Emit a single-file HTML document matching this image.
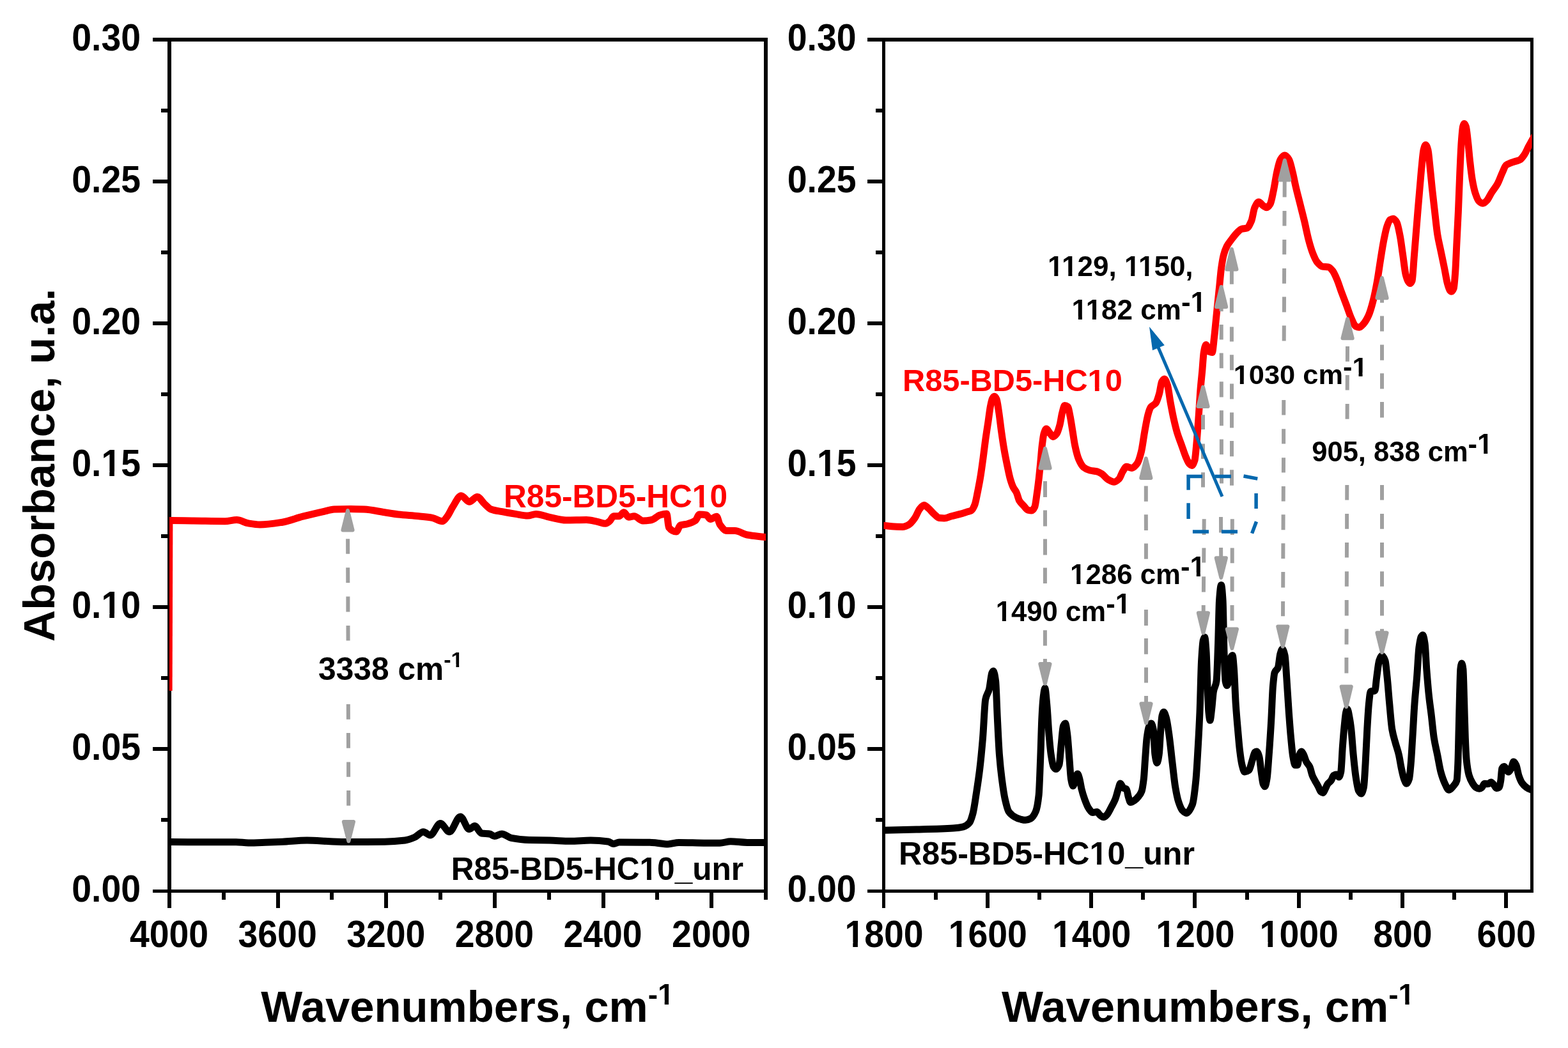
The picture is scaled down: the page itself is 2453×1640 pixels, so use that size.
<!DOCTYPE html>
<html lang="en"><head><meta charset="utf-8"><title>FTIR absorbance spectra: R85-BD5-HC10</title>
<style>html,body{margin:0;padding:0;background:#fff}body{width:2453px;height:1640px}svg{display:block}text{font-family:'Liberation Sans', Arial, sans-serif;font-weight:700}</style>
</head><body>
<svg width="2453" height="1640" viewBox="0 0 2453 1640" role="img" aria-label="FTIR absorbance spectra of R85-BD5-HC10 and R85-BD5-HC10_unr">
<rect width="2453" height="1640" fill="#fff"/>
<defs>
<clipPath id="cl"><rect x="265" y="62" width="933.0" height="1332.5"/></clipPath>
<clipPath id="cr"><rect x="1382.5" y="62" width="1014.0" height="1332.5"/></clipPath>
</defs>
<g id="axes-left">
<path d="M262 59H268V1397H262ZM1195 59H1201V1397H1195ZM262 59H1201V65H262ZM262 1392H1201V1397H262ZM239 1392H262V1397H239ZM239 1169H262V1175H239ZM239 947H262V953H239ZM239 725H262V731H239ZM239 503H262V509H239ZM239 281H262V287H239ZM239 59H262V65H239ZM252 1280H262V1286H252ZM252 1058H262V1064H252ZM252 836H262V842H252ZM252 614H262V620H252ZM252 392H262V398H252ZM252 170H262V176H252ZM262 1397H268V1421H262ZM432 1397H438V1421H432ZM601 1397H607V1421H601ZM771 1397H777V1421H771ZM941 1397H947V1421H941ZM1110 1397H1116V1421H1110ZM347 1397H353V1408H347ZM516 1397H522V1408H516ZM686 1397H692V1408H686ZM856 1397H862V1408H856ZM1025 1397H1031V1408H1025ZM1195 1397H1201V1408H1195Z" fill="#000" shape-rendering="crispEdges"/>
</g>
<g id="axes-right">
<path d="M1380 59H1385V1397H1380ZM2394 59H2399V1397H2394ZM1380 59H2399V65H1380ZM1380 1392H2399V1397H1380ZM1357 1392H1380V1397H1357ZM1357 1169H1380V1175H1357ZM1357 947H1380V953H1357ZM1357 725H1380V731H1357ZM1357 503H1380V509H1357ZM1357 281H1380V287H1357ZM1357 59H1380V65H1357ZM1370 1280H1380V1286H1370ZM1370 1058H1380V1064H1370ZM1370 836H1380V842H1370ZM1370 614H1380V620H1370ZM1370 392H1380V398H1370ZM1370 170H1380V176H1370ZM1380 1397H1385V1421H1380ZM1542 1397H1548V1421H1542ZM1704 1397H1710V1421H1704ZM1866 1397H1872V1421H1866ZM2029 1397H2035V1421H2029ZM2191 1397H2197V1421H2191ZM2353 1397H2359V1421H2353ZM1461 1397H1467V1408H1461ZM1623 1397H1629V1408H1623ZM1785 1397H1791V1408H1785ZM1948 1397H1954V1408H1948ZM2110 1397H2116V1408H2110ZM2272 1397H2278V1408H2272Z" fill="#000" shape-rendering="crispEdges"/>
</g>
<g id="ticklabels">
<text transform="translate(220.0 1411.0) scale(1 1.060)" font-size="55.4" fill="#000" text-anchor="end">0.00</text>
<text transform="translate(1339.5 1411.0) scale(1 1.060)" font-size="55.4" fill="#000" text-anchor="end">0.00</text>
<text transform="translate(220.0 1188.9) scale(1 1.060)" font-size="55.4" fill="#000" text-anchor="end">0.05</text>
<text transform="translate(1339.5 1188.9) scale(1 1.060)" font-size="55.4" fill="#000" text-anchor="end">0.05</text>
<text transform="translate(220.0 966.8) scale(1 1.060)" font-size="55.4" fill="#000" text-anchor="end">0.10</text>
<text transform="translate(1339.5 966.8) scale(1 1.060)" font-size="55.4" fill="#000" text-anchor="end">0.10</text>
<text transform="translate(220.0 744.8) scale(1 1.060)" font-size="55.4" fill="#000" text-anchor="end">0.15</text>
<text transform="translate(1339.5 744.8) scale(1 1.060)" font-size="55.4" fill="#000" text-anchor="end">0.15</text>
<text transform="translate(220.0 522.7) scale(1 1.060)" font-size="55.4" fill="#000" text-anchor="end">0.20</text>
<text transform="translate(1339.5 522.7) scale(1 1.060)" font-size="55.4" fill="#000" text-anchor="end">0.20</text>
<text transform="translate(220.0 300.6) scale(1 1.060)" font-size="55.4" fill="#000" text-anchor="end">0.25</text>
<text transform="translate(1339.5 300.6) scale(1 1.060)" font-size="55.4" fill="#000" text-anchor="end">0.25</text>
<text transform="translate(220.0 78.5) scale(1 1.060)" font-size="55.4" fill="#000" text-anchor="end">0.30</text>
<text transform="translate(1339.5 78.5) scale(1 1.060)" font-size="55.4" fill="#000" text-anchor="end">0.30</text>
<text transform="translate(264.5 1481.6) scale(1 1.060)" font-size="55.4" fill="#000" text-anchor="middle">4000</text>
<text transform="translate(434.1 1481.6) scale(1 1.060)" font-size="55.4" fill="#000" text-anchor="middle">3600</text>
<text transform="translate(603.8 1481.6) scale(1 1.060)" font-size="55.4" fill="#000" text-anchor="middle">3200</text>
<text transform="translate(773.4 1481.6) scale(1 1.060)" font-size="55.4" fill="#000" text-anchor="middle">2800</text>
<text transform="translate(943.0 1481.6) scale(1 1.060)" font-size="55.4" fill="#000" text-anchor="middle">2400</text>
<text transform="translate(1112.7 1481.6) scale(1 1.060)" font-size="55.4" fill="#000" text-anchor="middle">2000</text>
<text transform="translate(1383.0 1481.6) scale(1 1.060)" font-size="55.4" fill="#000" text-anchor="middle">1800</text>
<text transform="translate(1545.3 1481.6) scale(1 1.060)" font-size="55.4" fill="#000" text-anchor="middle">1600</text>
<text transform="translate(1707.6 1481.6) scale(1 1.060)" font-size="55.4" fill="#000" text-anchor="middle">1400</text>
<text transform="translate(1869.9 1481.6) scale(1 1.060)" font-size="55.4" fill="#000" text-anchor="middle">1200</text>
<text transform="translate(2032.2 1481.6) scale(1 1.060)" font-size="55.4" fill="#000" text-anchor="middle">1000</text>
<text transform="translate(2194.4 1481.6) scale(1 1.060)" font-size="55.4" fill="#000" text-anchor="middle">800</text>
<text transform="translate(2356.7 1481.6) scale(1 1.060)" font-size="55.4" fill="#000" text-anchor="middle">600</text>
</g>
<text x="408.3" y="1598.5" font-size="68.8" fill="#000" text-anchor="start">Wavenumbers, cm<tspan font-size="46" dy="-27">-1</tspan></text>
<text x="1566.9" y="1598.5" font-size="68.8" fill="#000" text-anchor="start">Wavenumbers, cm<tspan font-size="46" dy="-27">-1</tspan></text>
<text transform="translate(84.8 1004.3) rotate(-90)" font-size="68.6" fill="#000">Absorbance, u.a.</text>
<g id="left-data" clip-path="url(#cl)">
<path d="M262.0 1317.6C264.0 1317.6 266.0 1317.6 268.0 1317.6C285.3 1317.6 302.7 1317.7 320.0 1317.7C336.5 1317.7 352.9 1317.7 369.4 1317.8C375.8 1317.8 382.1 1318.9 388.5 1318.9C397.3 1318.9 406.2 1318.5 415.0 1318.2C423.9 1317.9 432.9 1317.6 441.8 1317.2C454.6 1316.6 467.4 1315.0 480.2 1315.0C492.3 1315.0 504.3 1316.2 516.4 1316.7C525.6 1317.1 534.8 1317.6 544.0 1317.6C563.2 1317.6 582.5 1317.5 601.7 1317.2C612.3 1317.1 623.0 1316.3 633.6 1315.0C638.6 1314.4 643.6 1312.4 648.6 1310.3C653.2 1308.4 657.8 1301.8 662.4 1301.8C665.9 1301.8 669.5 1307.0 673.0 1307.0C678.3 1307.0 683.7 1288.6 689.0 1288.6C693.7 1288.6 698.3 1301.8 703.0 1301.8C708.7 1301.8 714.5 1278.0 720.2 1278.0C724.8 1278.0 729.4 1297.5 734.0 1297.5C736.9 1297.5 739.7 1292.6 742.6 1292.6C746.2 1292.6 749.7 1303.5 753.3 1304.0C757.5 1304.6 761.8 1304.4 766.0 1305.0C768.5 1305.4 771.0 1308.6 773.5 1308.6C777.3 1308.6 781.2 1305.0 785.0 1305.0C790.0 1305.0 795.0 1310.4 800.0 1311.4C809.3 1313.2 818.7 1314.4 828.0 1314.6C838.7 1314.8 849.3 1314.8 860.0 1315.0C870.7 1315.2 881.3 1316.3 892.0 1316.3C902.7 1316.3 913.3 1315.0 924.0 1315.0C933.2 1315.0 942.3 1315.7 951.5 1317.0C954.3 1317.4 957.2 1320.5 960.0 1320.5C962.8 1320.5 965.7 1318.0 968.5 1318.0C985.6 1318.0 1002.6 1318.1 1019.7 1318.4C1028.1 1318.5 1036.6 1321.0 1045.0 1321.0C1050.7 1321.0 1056.3 1318.4 1062.0 1318.4C1076.3 1318.4 1090.7 1319.3 1105.0 1319.3C1112.0 1319.3 1119.0 1319.3 1126.0 1319.3C1131.7 1319.3 1137.3 1316.7 1143.0 1316.7C1151.7 1316.7 1160.3 1318.4 1169.0 1318.4C1177.5 1318.4 1186.0 1318.4 1194.5 1318.4C1197.0 1318.4 1199.5 1318.4 1202.0 1318.4" fill="none" stroke="#000" stroke-width="11" stroke-linejoin="round"/>
<path d="M264.6 1081 L265.4 814" fill="none" stroke="#ff0000" stroke-width="10"/>
<path d="M262.0 814.6C264.0 814.6 266.0 814.6 268.0 814.6C279.7 814.6 291.3 814.9 303.0 815.0C319.3 815.2 335.7 815.7 352.0 815.7C358.1 815.7 364.3 813.5 370.4 813.5C376.4 813.5 382.5 817.9 388.5 818.9C394.5 819.9 400.6 821.0 406.6 821.0C418.3 821.0 430.1 819.0 441.8 817.2C452.5 815.5 463.1 810.9 473.8 808.2C484.5 805.5 495.1 803.1 505.8 800.7C511.5 799.4 517.1 797.4 522.8 797.1C531.3 796.7 539.9 796.5 548.4 796.5C555.5 796.5 562.6 796.8 569.7 797.1C580.4 797.6 591.0 800.2 601.7 801.8C608.8 802.9 615.9 804.2 623.0 805.0C633.7 806.2 644.3 806.7 655.0 807.8C662.1 808.5 669.2 809.0 676.3 810.3C681.6 811.2 686.9 815.7 692.2 815.7C694.7 815.7 697.2 811.4 699.7 808.2C702.5 804.6 705.4 797.6 708.2 793.3C712.6 786.5 717.1 775.7 721.5 775.7C725.7 775.7 729.8 785.2 734.0 785.2C738.3 785.2 742.5 777.5 746.8 777.5C750.4 777.5 753.9 784.8 757.5 788.0C761.1 791.2 764.6 795.7 768.2 797.0C773.9 799.1 779.6 799.6 785.3 800.7C792.4 802.1 799.5 803.3 806.6 804.4C813.0 805.4 819.3 807.0 825.7 807.0C830.0 807.0 834.2 804.4 838.5 804.4C845.6 804.4 852.7 807.8 859.8 809.3C868.3 811.0 876.9 814.0 885.4 814.0C896.1 814.0 906.7 813.5 917.4 813.5C923.1 813.5 928.7 815.2 934.4 816.3C938.7 817.1 942.9 819.3 947.2 819.3C949.3 819.3 951.5 817.3 953.6 815.7C955.7 814.1 957.9 807.8 960.0 807.8C962.8 807.8 965.7 807.8 968.5 807.8C971.0 807.8 973.5 801.8 976.0 801.8C978.5 801.8 981.0 809.3 983.5 809.3C986.3 809.3 989.2 807.8 992.0 807.8C996.6 807.8 1001.2 815.0 1005.8 815.0C1010.4 815.0 1015.1 814.4 1019.7 813.5C1024.0 812.7 1028.2 807.2 1032.5 806.0C1036.0 805.0 1039.5 804.0 1043.0 804.0C1044.1 804.0 1045.2 823.9 1046.3 825.3C1050.2 830.2 1054.1 832.0 1058.0 832.0C1060.1 832.0 1062.3 822.8 1064.4 822.0C1067.9 820.7 1071.5 820.9 1075.0 820.0C1079.3 818.9 1083.7 817.6 1088.0 814.6C1090.1 813.1 1092.2 805.0 1094.3 805.0C1097.9 805.0 1101.4 805.3 1105.0 806.0C1107.1 806.4 1109.2 812.5 1111.3 812.5C1114.5 812.5 1117.8 808.2 1121.0 808.2C1122.8 808.2 1124.5 818.6 1126.3 821.0C1129.9 825.9 1133.4 830.6 1137.0 830.6C1141.2 830.6 1145.5 830.6 1149.7 830.6C1156.1 830.6 1162.6 835.8 1169.0 837.0C1177.5 838.6 1186.0 839.2 1194.5 840.2C1197.0 840.5 1199.5 840.7 1202.0 841.0" fill="none" stroke="#ff0000" stroke-width="11" stroke-linejoin="round"/>
</g>
<path d="M541.1 843.2L547.1 843.2L547.2 866.8L541.2 866.8ZM541.2 888.2L547.2 888.2L547.3 912.1L541.3 912.1ZM541.4 933.6L547.4 933.6L547.4 957.5L541.4 957.5ZM541.5 979.0L547.5 979.0L547.6 1002.5L541.6 1002.5ZM541.8 1102.0L547.8 1102.0L547.9 1125.7L541.9 1125.7ZM541.9 1147.0L547.9 1147.0L548.0 1170.7L542.0 1170.7ZM542.1 1192.5L548.1 1192.5L548.1 1215.7L542.1 1215.7ZM542.2 1237.0L548.2 1237.0L548.2 1260.7L542.2 1260.7Z" fill="#a0a0a0"/><path d="M544.0 799.0L551.6 829.5L536.4 829.5ZM545.4 1316.3L553.0 1285.9L537.8 1285.9Z" fill="#a0a0a0" stroke="#a0a0a0" stroke-width="6" stroke-linejoin="round"/>
<text x="788.0" y="794.3" font-size="49.6" fill="#ff0000" text-anchor="start">R85-BD5-HC10</text>
<text x="705.7" y="1376.7" font-size="49.6" fill="#000" text-anchor="start">R85-BD5-HC10_unr</text>
<text x="498.1" y="1064.0" font-size="49.7" fill="#000" text-anchor="start">3338 cm<tspan font-size="34" dy="-20">-1</tspan></text>
<g id="right-data" clip-path="url(#cr)">
<path d="M1378.0 1299.3C1380.1 1299.3 1382.2 1299.2 1384.3 1299.2C1400.8 1298.9 1417.3 1298.5 1433.8 1298.0C1452.9 1297.5 1472.1 1297.2 1491.2 1296.0C1496.5 1295.7 1501.7 1295.1 1507.0 1293.8C1510.2 1293.0 1513.5 1291.1 1516.7 1287.4C1518.5 1285.4 1520.2 1279.6 1522.0 1273.0C1523.8 1266.3 1525.6 1252.8 1527.4 1241.2C1529.2 1229.6 1531.0 1218.1 1532.8 1203.0C1534.4 1189.8 1535.9 1173.8 1537.5 1155.0C1538.9 1138.2 1540.3 1101.2 1541.7 1094.5C1543.6 1085.3 1545.6 1086.0 1547.5 1078.6C1548.9 1073.1 1550.4 1056.0 1551.8 1053.0C1552.5 1051.5 1553.3 1050.0 1554.0 1050.0C1555.2 1050.0 1556.4 1056.8 1557.6 1065.8C1558.5 1072.6 1559.4 1105.4 1560.3 1123.2C1561.3 1143.7 1562.4 1167.2 1563.4 1180.6C1564.7 1197.5 1566.0 1208.8 1567.3 1218.9C1569.0 1231.9 1570.6 1243.4 1572.3 1250.8C1574.2 1259.2 1576.1 1267.1 1578.0 1269.9C1580.9 1274.3 1583.9 1276.2 1586.8 1277.9C1590.0 1279.8 1593.2 1281.3 1596.4 1282.0C1599.1 1282.6 1601.7 1283.3 1604.4 1283.3C1607.0 1283.3 1609.7 1282.3 1612.3 1281.0C1615.0 1279.7 1617.6 1276.1 1620.3 1269.9C1621.9 1266.2 1623.5 1259.0 1625.1 1244.4C1626.0 1236.5 1626.8 1208.8 1627.7 1187.0C1628.4 1168.5 1629.2 1137.4 1629.9 1123.2C1630.6 1109.0 1631.4 1097.2 1632.1 1091.3C1633.0 1084.3 1633.8 1077.0 1634.7 1077.0C1635.8 1077.0 1636.8 1092.7 1637.9 1104.1C1638.9 1115.1 1640.0 1136.5 1641.0 1148.7C1642.1 1161.3 1643.1 1173.4 1644.2 1180.6C1645.5 1189.1 1646.7 1197.7 1648.0 1199.7C1649.4 1201.9 1650.8 1203.6 1652.2 1203.6C1653.8 1203.6 1655.4 1200.9 1657.0 1196.6C1658.1 1193.7 1659.1 1174.8 1660.2 1164.7C1661.3 1154.6 1662.3 1138.3 1663.4 1136.0C1664.5 1133.7 1665.5 1132.1 1666.6 1132.1C1667.6 1132.1 1668.7 1141.1 1669.7 1148.7C1670.8 1156.6 1671.8 1174.1 1672.9 1187.0C1673.8 1197.5 1674.6 1214.1 1675.5 1218.9C1676.6 1224.8 1677.6 1230.0 1678.7 1230.0C1680.0 1230.0 1681.2 1222.4 1682.5 1219.0C1683.6 1216.1 1684.6 1211.0 1685.7 1211.0C1686.8 1211.0 1687.8 1215.4 1688.9 1219.0C1689.9 1222.5 1691.0 1230.6 1692.0 1234.8C1693.6 1241.4 1695.3 1246.4 1696.9 1250.8C1699.0 1256.5 1701.1 1262.2 1703.2 1265.1C1705.3 1268.1 1707.5 1271.5 1709.6 1271.5C1711.7 1271.5 1713.9 1270.5 1716.0 1270.5C1717.6 1270.5 1719.2 1274.4 1720.8 1275.6C1722.7 1277.0 1724.6 1278.8 1726.5 1278.8C1728.3 1278.8 1730.1 1276.6 1731.9 1274.7C1734.0 1272.5 1736.2 1267.5 1738.3 1263.5C1740.4 1259.5 1742.6 1256.2 1744.7 1250.8C1746.3 1246.8 1747.9 1239.6 1749.5 1234.8C1750.6 1231.6 1751.6 1225.9 1752.7 1225.9C1754.3 1225.9 1755.8 1232.3 1757.4 1233.2C1759.0 1234.1 1760.6 1233.8 1762.2 1234.8C1763.3 1235.5 1764.3 1244.3 1765.4 1247.6C1766.5 1250.9 1767.5 1255.5 1768.6 1255.5C1770.7 1255.5 1772.9 1253.8 1775.0 1252.4C1777.1 1251.0 1779.3 1248.7 1781.4 1246.0C1783.0 1244.0 1784.5 1242.3 1786.1 1238.0C1787.2 1235.1 1788.2 1228.0 1789.3 1218.9C1790.1 1212.4 1790.8 1197.2 1791.6 1187.0C1792.4 1175.9 1793.3 1161.6 1794.1 1155.1C1795.2 1146.8 1796.2 1140.1 1797.3 1137.6C1798.6 1134.7 1799.8 1132.1 1801.1 1132.1C1802.2 1132.1 1803.2 1136.6 1804.3 1142.3C1805.2 1146.9 1806.0 1174.7 1806.9 1180.6C1807.9 1187.6 1809.0 1194.0 1810.0 1194.0C1811.1 1194.0 1812.1 1187.7 1813.2 1180.6C1814.1 1174.8 1814.9 1152.7 1815.8 1142.3C1816.5 1133.5 1817.3 1122.7 1818.0 1120.0C1818.9 1116.8 1819.7 1114.3 1820.6 1114.3C1821.9 1114.3 1823.1 1119.0 1824.4 1123.2C1826.0 1128.5 1827.6 1140.6 1829.2 1151.9C1830.8 1163.2 1832.4 1180.0 1834.0 1193.4C1835.6 1206.5 1837.1 1222.3 1838.7 1231.6C1840.3 1241.1 1841.9 1249.1 1843.5 1254.0C1845.6 1260.6 1847.8 1266.1 1849.9 1268.3C1851.9 1270.4 1854.0 1272.4 1856.0 1272.4C1859.1 1272.4 1862.3 1266.9 1865.4 1259.0C1867.2 1254.5 1869.0 1239.2 1870.8 1221.5C1872.0 1210.0 1873.1 1188.2 1874.3 1167.9C1875.2 1152.3 1876.1 1136.1 1877.0 1114.3C1877.9 1093.3 1878.7 1049.0 1879.6 1034.0C1880.5 1018.5 1881.4 1004.8 1882.3 1001.8C1883.1 999.1 1883.9 997.0 1884.7 997.0C1885.5 997.0 1886.3 1008.7 1887.1 1020.5C1887.7 1029.9 1888.4 1058.7 1889.0 1074.0C1889.6 1089.3 1890.3 1108.2 1890.9 1114.3C1891.6 1121.0 1892.3 1127.2 1893.0 1127.2C1893.9 1127.2 1894.8 1116.2 1895.7 1109.0C1896.6 1101.8 1897.5 1087.1 1898.4 1082.2C1899.9 1073.9 1901.5 1076.0 1903.0 1066.0C1903.9 1060.3 1904.7 1031.2 1905.6 1007.0C1906.2 989.3 1906.9 948.8 1907.5 940.0C1908.5 926.1 1909.5 915.5 1910.5 915.5C1911.4 915.5 1912.2 926.2 1913.1 940.0C1913.7 950.1 1914.4 1002.2 1915.0 1020.5C1915.7 1040.7 1916.4 1062.5 1917.1 1066.0C1917.9 1070.1 1918.8 1072.8 1919.6 1072.8C1920.7 1072.8 1921.9 1067.0 1923.0 1060.7C1923.9 1055.7 1924.8 1030.7 1925.7 1028.6C1926.5 1026.7 1927.3 1025.4 1928.1 1025.4C1928.9 1025.4 1929.7 1037.4 1930.5 1047.3C1931.4 1058.5 1932.3 1087.0 1933.2 1100.9C1934.3 1117.4 1935.3 1128.8 1936.4 1141.0C1937.5 1153.6 1938.6 1167.2 1939.7 1175.9C1940.8 1184.9 1942.0 1193.0 1943.1 1197.3C1944.4 1202.4 1945.8 1208.0 1947.1 1208.0C1949.3 1208.0 1951.6 1207.0 1953.8 1205.4C1955.6 1204.1 1957.4 1194.7 1959.2 1189.3C1960.5 1185.3 1961.9 1178.3 1963.2 1177.2C1964.1 1176.5 1965.0 1175.9 1965.9 1175.9C1967.2 1175.9 1968.6 1179.7 1969.9 1184.0C1971.0 1187.5 1972.0 1200.7 1973.1 1208.0C1974.1 1214.8 1975.1 1224.4 1976.1 1226.8C1977.0 1228.9 1977.9 1230.8 1978.8 1230.8C1979.9 1230.8 1980.9 1224.9 1982.0 1218.8C1983.1 1212.7 1984.1 1195.4 1985.2 1181.3C1986.4 1165.8 1987.5 1148.0 1988.7 1127.7C1989.6 1112.0 1990.5 1084.4 1991.4 1074.0C1992.3 1064.0 1993.1 1055.1 1994.0 1052.7C1995.8 1047.7 1997.6 1049.1 1999.4 1044.6C2000.6 1041.7 2001.7 1027.1 2002.9 1023.2C2004.0 1019.6 2005.0 1015.7 2006.1 1015.7C2007.4 1015.7 2008.8 1020.0 2010.1 1025.9C2011.0 1029.9 2011.9 1048.1 2012.8 1060.7C2014.0 1077.0 2015.1 1098.2 2016.3 1114.3C2017.4 1129.0 2018.4 1143.2 2019.5 1154.5C2020.6 1165.8 2021.6 1178.2 2022.7 1184.0C2023.9 1190.3 2025.0 1197.3 2026.2 1197.3C2027.4 1197.3 2028.5 1197.3 2029.7 1197.3C2030.8 1197.3 2031.8 1184.0 2032.9 1181.3C2034.0 1178.6 2035.0 1175.9 2036.1 1175.9C2037.3 1175.9 2038.4 1179.0 2039.6 1181.3C2040.9 1183.9 2042.3 1189.4 2043.6 1192.0C2045.4 1195.5 2047.2 1196.2 2049.0 1200.0C2050.3 1202.8 2051.7 1210.1 2053.0 1213.4C2054.3 1216.7 2055.7 1218.9 2057.0 1221.4C2058.8 1224.7 2060.5 1227.5 2062.3 1230.8C2063.7 1233.4 2065.0 1237.8 2066.4 1238.9C2067.5 1239.8 2068.7 1240.7 2069.8 1240.7C2070.9 1240.7 2072.0 1237.0 2073.1 1234.9C2074.4 1232.4 2075.8 1228.6 2077.1 1226.8C2078.9 1224.4 2080.6 1223.8 2082.4 1221.4C2083.8 1219.5 2085.1 1214.2 2086.5 1213.4C2087.8 1212.6 2089.2 1212.0 2090.5 1212.0C2091.8 1212.0 2093.2 1216.0 2094.5 1216.0C2095.6 1216.0 2096.6 1212.7 2097.7 1208.0C2098.6 1204.1 2099.5 1179.8 2100.4 1167.9C2101.3 1156.0 2102.2 1144.5 2103.1 1135.7C2104.0 1127.3 2104.8 1117.4 2105.7 1114.3C2106.4 1111.9 2107.0 1109.6 2107.7 1109.6C2109.0 1109.6 2110.2 1118.4 2111.5 1125.0C2112.3 1129.0 2113.0 1134.4 2113.8 1141.0C2114.9 1150.8 2116.1 1169.7 2117.2 1181.3C2118.5 1194.6 2119.8 1207.6 2121.1 1216.0C2122.5 1225.2 2124.0 1234.9 2125.4 1237.5C2126.7 1239.9 2128.1 1242.0 2129.4 1242.0C2130.7 1242.0 2132.1 1237.9 2133.4 1232.0C2134.3 1228.0 2135.2 1209.3 2136.1 1194.6C2137.0 1179.9 2137.9 1156.3 2138.8 1141.0C2139.7 1125.7 2140.6 1109.5 2141.5 1100.9C2142.4 1092.3 2143.3 1082.4 2144.2 1082.0C2146.4 1081.1 2148.7 1081.7 2150.9 1080.8C2151.8 1080.4 2152.7 1067.1 2153.6 1060.7C2154.9 1051.3 2156.3 1037.7 2157.6 1033.9C2159.1 1029.6 2160.6 1025.9 2162.1 1025.9C2163.7 1025.9 2165.4 1029.2 2167.0 1033.9C2168.1 1037.0 2169.1 1050.4 2170.2 1060.7C2171.4 1072.0 2172.5 1088.4 2173.7 1100.9C2175.0 1115.2 2176.4 1133.1 2177.7 1141.0C2179.5 1151.4 2181.2 1155.9 2183.0 1162.5C2184.8 1169.2 2186.6 1173.6 2188.4 1181.3C2189.7 1187.0 2191.1 1196.6 2192.4 1202.7C2193.7 1208.8 2195.1 1215.4 2196.4 1218.8C2197.8 1222.2 2199.1 1226.3 2200.5 1226.3C2201.8 1226.3 2203.2 1223.1 2204.5 1218.8C2205.4 1215.9 2206.3 1204.9 2207.2 1194.7C2208.1 1184.9 2208.9 1168.4 2209.8 1154.5C2210.9 1137.4 2211.9 1115.5 2213.0 1100.9C2214.2 1085.0 2215.3 1075.3 2216.5 1060.7C2217.7 1046.1 2218.8 1021.0 2220.0 1012.5C2221.1 1004.7 2222.1 998.1 2223.2 996.4C2224.1 995.0 2225.0 993.8 2225.9 993.8C2227.0 993.8 2228.0 1000.1 2229.1 1007.1C2230.0 1013.0 2230.9 1035.6 2231.8 1047.3C2233.0 1062.5 2234.1 1076.4 2235.3 1087.5C2236.6 1100.2 2238.0 1108.6 2239.3 1119.7C2240.6 1130.8 2242.0 1146.0 2243.3 1154.5C2245.1 1166.0 2246.9 1172.3 2248.7 1181.3C2250.5 1190.1 2252.2 1201.6 2254.0 1208.0C2256.2 1216.1 2258.5 1222.3 2260.7 1226.8C2262.7 1230.8 2264.6 1236.2 2266.6 1236.2C2269.1 1236.2 2271.6 1232.5 2274.1 1229.5C2275.7 1227.6 2277.4 1226.9 2279.0 1221.4C2279.6 1219.4 2280.2 1207.8 2280.8 1194.7C2281.3 1184.5 2281.7 1159.5 2282.2 1141.0C2282.6 1123.8 2283.1 1102.8 2283.5 1087.5C2283.9 1072.2 2284.4 1051.1 2284.8 1047.3C2285.4 1041.7 2286.1 1038.0 2286.7 1038.0C2287.4 1038.0 2288.2 1041.7 2288.9 1047.3C2289.5 1051.9 2290.1 1082.0 2290.7 1100.9C2291.2 1117.7 2291.8 1141.8 2292.3 1154.5C2292.9 1169.6 2293.6 1183.2 2294.2 1189.3C2295.5 1202.2 2296.9 1208.9 2298.2 1213.4C2300.0 1219.4 2301.8 1222.6 2303.6 1225.5C2305.4 1228.4 2307.2 1231.1 2309.0 1232.2C2310.8 1233.3 2312.5 1234.3 2314.3 1234.3C2315.6 1234.3 2317.0 1233.2 2318.3 1232.2C2319.6 1231.2 2321.0 1226.3 2322.3 1226.3C2324.1 1226.3 2325.9 1226.8 2327.7 1226.8C2329.3 1226.8 2330.9 1224.1 2332.5 1224.1C2334.0 1224.1 2335.6 1226.6 2337.1 1228.2C2338.4 1229.6 2339.8 1233.5 2341.1 1233.5C2342.4 1233.5 2343.8 1233.0 2345.1 1232.2C2346.0 1231.6 2346.9 1226.6 2347.8 1221.4C2348.4 1217.7 2349.1 1203.9 2349.7 1202.7C2350.8 1200.6 2352.0 1199.5 2353.1 1199.5C2354.3 1199.5 2355.4 1202.5 2356.6 1204.0C2357.7 1205.4 2358.7 1208.0 2359.8 1208.0C2361.2 1208.0 2362.5 1205.1 2363.9 1202.7C2365.2 1200.4 2366.6 1192.0 2367.9 1192.0C2369.2 1192.0 2370.6 1194.6 2371.9 1197.3C2373.2 1200.0 2374.6 1209.5 2375.9 1213.4C2377.7 1218.7 2379.5 1223.0 2381.3 1225.5C2383.5 1228.6 2385.8 1230.7 2388.0 1232.2C2390.0 1233.6 2392.1 1234.7 2394.1 1235.4C2396.1 1236.1 2398.0 1236.5 2400.0 1237.0" fill="none" stroke="#000" stroke-width="11" stroke-linejoin="round"/>
<path d="M1378.0 822.3C1379.8 822.4 1381.6 822.4 1383.4 822.5C1388.5 822.8 1393.6 823.8 1398.7 824.0C1403.2 824.2 1407.6 824.4 1412.1 824.4C1415.3 824.4 1418.5 822.8 1421.7 821.1C1424.9 819.4 1428.0 815.0 1431.2 810.6C1433.8 807.0 1436.3 799.3 1438.9 796.3C1441.1 793.7 1443.4 790.5 1445.6 790.5C1447.8 790.5 1450.1 793.4 1452.3 795.3C1455.5 797.9 1458.6 802.2 1461.8 804.9C1464.4 807.1 1466.9 810.3 1469.5 810.6C1472.0 810.8 1474.6 811.0 1477.1 811.0C1480.9 811.0 1484.8 808.8 1488.6 807.8C1492.4 806.8 1496.3 806.0 1500.1 804.9C1503.9 803.8 1507.8 802.6 1511.6 801.4C1514.1 800.6 1516.7 800.4 1519.2 799.1C1521.1 798.1 1523.1 794.3 1525.0 789.6C1526.4 786.1 1527.9 777.4 1529.3 770.4C1530.7 763.4 1532.2 756.1 1533.6 747.5C1535.1 738.7 1536.5 727.6 1538.0 716.9C1539.4 706.6 1540.8 694.3 1542.2 684.4C1543.5 675.4 1544.7 668.1 1546.0 659.5C1547.1 652.1 1548.2 642.1 1549.3 636.5C1550.4 631.1 1551.4 625.7 1552.5 623.8C1553.5 622.0 1554.6 620.3 1555.6 620.3C1556.7 620.3 1557.9 622.2 1559.0 624.5C1560.2 626.9 1561.3 636.5 1562.5 644.0C1563.9 653.0 1565.3 666.1 1566.7 676.0C1568.1 685.9 1569.5 695.4 1570.9 703.5C1572.5 712.8 1574.1 720.7 1575.7 728.4C1577.3 735.9 1578.8 744.0 1580.4 749.4C1582.0 754.9 1583.6 759.6 1585.2 762.8C1586.8 766.0 1588.4 767.2 1590.0 770.4C1591.6 773.6 1593.2 781.1 1594.8 783.8C1597.0 787.5 1599.3 789.1 1601.5 791.5C1603.7 793.9 1606.0 797.6 1608.2 798.2C1610.1 798.7 1612.0 799.1 1613.9 799.1C1615.5 799.1 1617.1 796.7 1618.7 793.4C1620.0 790.8 1621.2 779.1 1622.5 770.4C1623.5 763.7 1624.4 756.0 1625.4 747.5C1626.2 740.1 1627.1 731.3 1627.9 722.6C1628.7 714.6 1629.4 704.0 1630.2 697.7C1631.2 689.7 1632.1 681.6 1633.1 678.6C1634.4 674.6 1635.6 671.0 1636.9 671.0C1638.5 671.0 1640.1 674.8 1641.7 676.7C1643.6 678.9 1645.5 683.4 1647.4 683.4C1649.3 683.4 1651.2 681.1 1653.1 678.6C1654.7 676.5 1656.3 671.0 1657.9 665.2C1659.2 660.6 1660.4 650.8 1661.7 646.1C1663.0 641.3 1664.3 634.6 1665.6 634.6C1667.2 634.6 1668.8 635.3 1670.4 636.5C1671.7 637.4 1672.9 645.7 1674.2 651.8C1675.5 657.9 1676.7 667.2 1678.0 674.8C1679.3 682.4 1680.5 691.9 1681.8 697.7C1683.7 706.6 1685.7 714.4 1687.6 718.8C1690.1 724.6 1692.7 729.2 1695.2 731.2C1698.4 733.7 1701.6 735.2 1704.8 736.0C1708.6 737.0 1712.5 736.9 1716.3 737.9C1718.8 738.6 1721.4 740.1 1723.9 741.7C1727.1 743.7 1730.3 748.6 1733.5 750.4C1736.7 752.2 1739.8 754.2 1743.0 754.2C1745.6 754.2 1748.1 751.9 1750.7 749.4C1752.6 747.5 1754.5 740.9 1756.4 737.9C1758.3 734.8 1760.3 730.3 1762.2 730.3C1765.0 730.3 1767.9 732.4 1770.7 732.4C1773.4 732.4 1776.1 729.2 1778.8 725.7C1781.0 722.8 1783.2 715.5 1785.4 707.0C1787.2 700.0 1789.0 684.7 1790.8 674.9C1792.6 665.1 1794.4 654.2 1796.2 648.0C1797.5 643.4 1798.9 639.1 1800.2 637.3C1802.9 633.7 1805.5 634.1 1808.2 630.6C1810.0 628.2 1811.8 622.2 1813.6 615.9C1814.9 611.3 1816.3 599.4 1817.6 597.2C1818.9 595.0 1820.3 593.1 1821.6 593.1C1823.2 593.1 1824.8 597.8 1826.4 602.5C1827.9 607.0 1829.5 621.0 1831.0 629.3C1832.8 638.9 1834.5 648.2 1836.3 656.1C1838.1 664.1 1839.9 671.5 1841.7 677.5C1843.9 684.9 1846.2 690.1 1848.4 696.3C1850.6 702.5 1852.9 709.9 1855.1 715.0C1856.9 719.1 1858.7 723.9 1860.5 725.7C1861.8 727.0 1863.2 728.4 1864.5 728.4C1866.0 728.4 1867.5 725.0 1869.0 720.4C1870.1 716.9 1871.3 700.8 1872.4 688.2C1873.4 677.1 1874.4 662.1 1875.4 648.0C1876.3 635.3 1877.2 618.8 1878.1 607.9C1879.0 597.4 1879.8 590.6 1880.7 581.1C1881.5 571.9 1882.4 556.3 1883.2 551.6C1884.3 545.3 1885.5 539.6 1886.6 539.6C1888.3 539.6 1890.1 549.4 1891.8 550.3C1893.3 551.0 1894.8 551.6 1896.3 551.6C1897.4 551.6 1898.5 536.8 1899.6 527.5C1900.5 519.9 1901.4 509.6 1902.3 500.7C1903.2 491.8 1904.1 482.7 1905.0 473.9C1905.9 464.8 1906.9 456.2 1907.8 447.1C1908.7 438.3 1909.6 427.0 1910.5 420.4C1911.8 411.1 1913.0 403.6 1914.3 398.9C1915.9 392.8 1917.6 388.7 1919.2 385.5C1921.7 380.7 1924.1 378.1 1926.6 374.8C1929.1 371.4 1931.6 368.0 1934.1 365.4C1936.8 362.6 1939.5 359.2 1942.2 358.4C1945.0 357.6 1947.7 357.9 1950.5 357.0C1952.9 356.3 1955.2 351.5 1957.6 346.1C1959.4 342.1 1961.1 328.4 1962.9 324.7C1965.0 320.4 1967.0 316.1 1969.1 316.1C1971.5 316.1 1973.9 320.5 1976.3 322.0C1978.1 323.1 1979.9 324.7 1981.7 324.7C1983.5 324.7 1985.3 322.2 1987.1 319.3C1988.9 316.5 1990.6 306.1 1992.4 297.9C1994.2 289.5 1996.0 276.1 1997.8 268.4C1999.6 260.8 2001.3 252.4 2003.1 249.6C2005.3 246.1 2007.6 243.0 2009.8 243.0C2012.0 243.0 2014.3 246.1 2016.5 249.6C2018.3 252.4 2020.1 261.3 2021.9 268.4C2023.7 275.4 2025.4 285.0 2027.2 292.5C2029.4 302.0 2031.7 310.4 2033.9 319.3C2036.1 328.2 2038.4 336.7 2040.6 346.1C2042.8 355.5 2045.1 367.3 2047.3 375.6C2049.5 383.9 2051.8 391.5 2054.0 397.0C2056.2 402.5 2058.5 407.8 2060.7 410.4C2063.4 413.6 2066.1 416.7 2068.8 417.1C2071.9 417.6 2075.0 417.4 2078.1 417.9C2080.3 418.3 2082.6 421.1 2084.8 423.8C2087.0 426.5 2089.3 432.0 2091.5 437.2C2093.7 442.4 2096.0 449.8 2098.2 455.9C2100.9 463.2 2103.6 470.1 2106.3 477.3C2109.0 484.4 2111.6 493.1 2114.3 498.8C2116.5 503.6 2118.8 509.8 2121.0 510.8C2122.8 511.6 2124.6 512.2 2126.4 512.2C2128.6 512.2 2130.9 509.2 2133.1 506.8C2135.8 503.9 2138.4 499.3 2141.1 493.4C2143.3 488.4 2145.6 480.5 2147.8 472.0C2150.0 463.5 2152.3 452.3 2154.5 440.0C2156.2 430.4 2158.0 417.2 2159.7 406.5C2161.4 395.8 2163.2 384.2 2164.9 375.5C2166.6 367.2 2168.2 358.8 2169.9 354.0C2171.4 349.6 2173.0 344.9 2174.5 344.0C2176.2 343.0 2177.9 342.2 2179.6 342.2C2181.4 342.2 2183.3 344.9 2185.1 348.0C2186.8 350.9 2188.5 360.3 2190.2 369.0C2191.7 376.5 2193.1 388.6 2194.6 398.5C2196.1 408.9 2197.7 424.0 2199.2 430.0C2200.5 434.9 2201.7 438.6 2203.0 440.5C2204.0 442.0 2204.9 443.6 2205.9 443.6C2207.0 443.6 2208.0 441.9 2209.1 439.3C2210.1 436.8 2211.2 415.6 2212.2 403.1C2213.2 391.4 2214.1 379.0 2215.1 367.0C2216.1 355.0 2217.0 342.5 2218.0 330.8C2219.0 318.3 2220.1 306.5 2221.1 294.6C2222.2 282.4 2223.2 268.9 2224.3 258.5C2225.2 249.4 2226.2 238.0 2227.1 234.4C2228.2 230.3 2229.2 226.7 2230.3 226.7C2231.5 226.7 2232.7 230.2 2233.9 234.4C2234.9 237.8 2235.8 249.7 2236.8 258.5C2238.0 269.4 2239.2 283.3 2240.4 294.6C2241.8 307.5 2243.1 319.0 2244.5 330.8C2245.9 343.2 2247.4 358.0 2248.8 367.0C2250.4 377.2 2252.1 383.1 2253.7 391.1C2255.7 400.8 2257.7 410.2 2259.7 420.0C2261.3 427.9 2262.9 438.4 2264.5 444.1C2265.7 448.4 2266.9 452.7 2268.1 454.2C2268.9 455.2 2269.7 456.2 2270.5 456.2C2271.7 456.2 2273.0 454.4 2274.2 451.3C2275.0 449.3 2275.8 437.9 2276.6 427.2C2277.4 416.5 2278.2 395.1 2279.0 379.0C2279.8 362.9 2280.6 348.7 2281.4 330.8C2282.2 312.9 2283.0 288.4 2283.8 270.5C2284.6 252.6 2285.4 233.0 2286.2 222.3C2287.0 211.6 2287.8 201.4 2288.6 198.2C2289.2 195.7 2289.9 193.4 2290.5 193.4C2291.5 193.4 2292.4 195.6 2293.4 198.2C2294.5 201.1 2295.5 213.1 2296.6 222.3C2297.6 230.6 2298.5 242.7 2299.5 251.3C2300.7 262.0 2301.9 273.2 2303.1 280.2C2304.7 289.6 2306.3 297.1 2307.9 301.9C2309.9 307.9 2311.9 313.4 2313.9 315.1C2315.9 316.8 2318.0 318.3 2320.0 318.3C2322.0 318.3 2324.0 315.9 2326.0 313.9C2328.4 311.5 2330.8 305.7 2333.2 301.9C2336.4 296.8 2339.7 293.4 2342.9 287.4C2345.3 283.0 2347.7 275.7 2350.1 270.5C2352.1 266.2 2354.1 260.1 2356.1 258.5C2358.5 256.5 2361.0 255.9 2363.4 254.9C2365.8 253.9 2368.2 253.3 2370.6 252.5C2373.0 251.7 2375.4 251.3 2377.8 250.0C2380.2 248.7 2382.6 245.1 2385.0 241.6C2387.0 238.6 2389.1 233.4 2391.1 229.6C2392.7 226.6 2394.3 223.9 2395.9 221.1C2397.6 218.1 2399.3 215.0 2401.0 212.0" fill="none" stroke="#ff0000" stroke-width="11" stroke-linejoin="round"/>
</g>
<g id="right-arrows">
<path d="M1632.0 753.0L1638.0 753.0L1638.0 778.0L1632.0 778.0ZM1632.0 798.5L1638.0 798.5L1638.0 823.5L1632.0 823.5ZM1632.0 843.4L1638.0 843.4L1638.0 868.4L1632.0 868.4ZM1631.9 888.6L1637.9 888.6L1637.9 913.0L1631.9 913.0ZM1631.9 986.3L1637.9 986.3L1637.9 1010.6L1631.9 1010.6ZM1631.9 1031.0L1637.9 1031.0L1637.9 1037.0L1631.9 1037.0Z" fill="#a0a0a0"/><path d="M1635.0 701.8L1642.6 732.5L1627.4 732.5ZM1634.9 1069.8L1642.5 1039.1L1627.3 1039.1Z" fill="#a0a0a0" stroke="#a0a0a0" stroke-width="6" stroke-linejoin="round"/>
<path d="M1789.8 760.4L1795.8 760.4L1795.8 784.7L1789.8 784.7ZM1789.8 805.3L1795.8 805.3L1795.9 830.0L1789.9 830.0ZM1789.9 850.5L1795.9 850.5L1795.9 874.8L1789.9 874.8ZM1789.9 954.0L1795.9 954.0L1795.9 979.0L1789.9 979.0ZM1789.9 998.9L1795.9 998.9L1795.9 1023.8L1789.9 1023.8ZM1790.0 1044.4L1796.0 1044.4L1796.0 1068.4L1790.0 1068.4ZM1790.0 1089.0L1796.0 1089.0L1796.0 1099.0L1790.0 1099.0Z" fill="#a0a0a0"/><path d="M1792.8 717.5L1800.4 748.0L1785.2 748.0ZM1793.0 1131.4L1800.6 1101.3L1785.4 1101.3Z" fill="#a0a0a0" stroke="#a0a0a0" stroke-width="6" stroke-linejoin="round"/>
<path d="M1879.0 649.2L1885.0 649.2L1885.0 672.0L1879.0 672.0ZM1879.0 694.5L1885.0 694.5L1885.0 718.0L1879.0 718.0ZM1879.0 739.3L1885.0 739.3L1885.0 762.6L1879.0 762.6Z" fill="#a0a0a0"/><path d="M1882.0 605.7L1889.6 636.0L1874.4 636.0Z" fill="#a0a0a0" stroke="#a0a0a0" stroke-width="6" stroke-linejoin="round"/>
<path d="M1880.7 812.3L1886.7 812.3L1886.5 836.9L1880.5 836.9ZM1880.4 857.6L1886.4 857.6L1886.2 880.5L1880.2 880.5ZM1880.1 902.3L1886.1 902.3L1885.9 926.4L1879.9 926.4ZM1879.7 947.0L1885.7 947.0L1885.7 957.0L1879.7 957.0Z" fill="#a0a0a0"/><path d="M1882.4 990.5L1890.0 959.3L1874.8 959.3Z" fill="#a0a0a0" stroke="#a0a0a0" stroke-width="6" stroke-linejoin="round"/>
<path d="M1907.6 483.0L1913.6 483.0L1913.7 487.3L1907.7 487.3ZM1907.7 508.0L1913.7 508.0L1913.7 531.4L1907.7 531.4ZM1907.7 552.5L1913.7 552.5L1913.8 576.3L1907.8 576.3ZM1907.8 597.3L1913.8 597.3L1913.8 621.5L1907.8 621.5ZM1907.9 642.3L1913.9 642.3L1913.9 666.2L1907.9 666.2ZM1907.9 687.4L1913.9 687.4L1913.9 711.2L1907.9 711.2ZM1908.0 732.4L1914.0 732.4L1914.0 756.6L1908.0 756.6Z" fill="#a0a0a0"/><path d="M1910.6 449.0L1918.2 480.2L1903.0 480.2Z" fill="#a0a0a0" stroke="#a0a0a0" stroke-width="6" stroke-linejoin="round"/>
<path d="M1907.0 808.9L1913.0 808.9L1913.1 833.5L1907.1 833.5ZM1907.1 857.0L1913.1 857.0L1913.2 871.0L1907.2 871.0Z" fill="#a0a0a0"/><path d="M1910.3 903.9L1917.9 873.2L1902.7 873.2Z" fill="#a0a0a0" stroke="#a0a0a0" stroke-width="6" stroke-linejoin="round"/>
<path d="M1923.9 424.0L1929.9 424.0L1929.9 444.7L1923.9 444.7ZM1923.9 466.2L1929.9 466.2L1929.9 489.5L1923.9 489.5ZM1923.9 511.4L1929.9 511.4L1929.9 534.6L1923.9 534.6ZM1923.9 555.3L1929.9 555.3L1930.0 579.2L1924.0 579.2ZM1924.0 600.4L1930.0 600.4L1930.0 624.5L1924.0 624.5ZM1924.0 645.4L1930.0 645.4L1930.0 669.5L1924.0 669.5ZM1924.0 690.0L1930.0 690.0L1930.0 714.3L1924.0 714.3ZM1924.0 735.2L1930.0 735.2L1930.0 759.7L1924.0 759.7Z" fill="#a0a0a0"/><path d="M1926.9 390.0L1934.5 421.4L1919.3 421.4Z" fill="#a0a0a0" stroke="#a0a0a0" stroke-width="6" stroke-linejoin="round"/>
<path d="M1924.8 812.3L1930.8 812.3L1930.8 836.9L1924.8 836.9ZM1924.7 857.6L1930.7 857.6L1930.7 881.2L1924.7 881.2ZM1924.6 902.3L1930.6 902.3L1930.6 925.7L1924.6 925.7ZM1924.5 947.0L1930.5 947.0L1930.5 971.2L1924.5 971.2Z" fill="#a0a0a0"/><path d="M1927.4 1014.6L1935.0 984.5L1919.8 984.5Z" fill="#a0a0a0" stroke="#a0a0a0" stroke-width="6" stroke-linejoin="round"/>
<path d="M2006.7 284.0L2012.7 284.0L2012.6 308.6L2006.6 308.6ZM2006.5 330.0L2012.5 330.0L2012.4 353.6L2006.4 353.6ZM2006.3 375.0L2012.3 375.0L2012.2 398.3L2006.2 398.3ZM2006.1 420.1L2012.1 420.1L2012.0 443.7L2006.0 443.7ZM2006.0 464.5L2012.0 464.5L2011.9 488.4L2005.9 488.4ZM2005.8 509.5L2011.8 509.5L2011.7 533.6L2005.7 533.6ZM2005.3 626.0L2011.3 626.0L2011.2 649.4L2005.2 649.4ZM2005.1 671.2L2011.1 671.2L2011.1 694.6L2005.1 694.6ZM2005.0 716.2L2011.0 716.2L2010.9 739.6L2004.9 739.6ZM2004.8 761.0L2010.8 761.0L2010.7 784.6L2004.7 784.6ZM2004.6 805.2L2010.6 805.2L2010.5 829.3L2004.5 829.3ZM2004.4 850.2L2010.4 850.2L2010.3 874.3L2004.3 874.3ZM2004.3 895.0L2010.3 895.0L2010.2 919.5L2004.2 919.5ZM2004.1 940.9L2010.1 940.9L2010.0 964.3L2004.0 964.3Z" fill="#a0a0a0"/><path d="M2009.8 251.0L2017.4 281.5L2002.2 281.5ZM2006.8 1011.8L2014.4 980.4L1999.2 980.4Z" fill="#a0a0a0" stroke="#a0a0a0" stroke-width="6" stroke-linejoin="round"/>
<path d="M2105.0 542.0L2111.0 542.0L2110.9 565.8L2104.9 565.8ZM2104.8 587.1L2110.8 587.1L2110.7 610.6L2104.7 610.6ZM2104.7 631.9L2110.7 631.9L2110.6 655.8L2104.6 655.8ZM2104.3 759.1L2110.3 759.1L2110.2 782.5L2104.2 782.5ZM2104.1 804.0L2110.1 804.0L2110.1 827.7L2104.1 827.7ZM2104.0 849.0L2110.0 849.0L2109.9 872.5L2103.9 872.5ZM2103.9 894.3L2109.9 894.3L2109.8 917.7L2103.8 917.7ZM2103.7 939.0L2109.7 939.0L2109.7 963.6L2103.7 963.6ZM2103.6 984.3L2109.6 984.3L2109.5 1008.6L2103.5 1008.6ZM2103.4 1029.0L2109.4 1029.0L2109.4 1053.4L2103.4 1053.4Z" fill="#a0a0a0"/><path d="M2108.1 499.1L2115.7 529.3L2100.5 529.3ZM2106.2 1106.0L2113.8 1074.5L2098.6 1074.5Z" fill="#a0a0a0" stroke="#a0a0a0" stroke-width="6" stroke-linejoin="round"/>
<path d="M2159.0 469.0L2165.0 469.0L2165.0 473.7L2159.0 473.7ZM2159.0 494.5L2165.0 494.5L2165.0 518.5L2159.0 518.5ZM2159.0 539.4L2165.0 539.4L2165.0 563.7L2159.0 563.7ZM2159.0 584.2L2165.0 584.2L2165.0 608.4L2159.0 608.4ZM2159.0 629.1L2165.0 629.1L2165.0 653.6L2159.0 653.6ZM2159.0 759.1L2165.0 759.1L2165.0 782.5L2159.0 782.5ZM2159.0 804.0L2165.0 804.0L2165.0 827.7L2159.0 827.7ZM2159.0 849.0L2165.0 849.0L2165.0 872.5L2159.0 872.5ZM2159.0 894.3L2165.0 894.3L2165.0 917.7L2159.0 917.7ZM2159.0 939.0L2165.0 939.0L2165.0 963.6L2159.0 963.6ZM2159.0 984.3L2165.0 984.3L2165.0 990.0L2159.0 990.0Z" fill="#a0a0a0"/><path d="M2162.0 435.0L2169.6 466.3L2154.4 466.3ZM2162.0 1021.0L2169.6 990.3L2154.4 990.3Z" fill="#a0a0a0" stroke="#a0a0a0" stroke-width="6" stroke-linejoin="round"/>
</g>
<g id="blue" fill="none" stroke="#0568ae">
<path stroke-width="5.5" d="M1856.3 745.5H1880.9M1900.4 745.5H1925.9M1945.5 745L1967.3 749.1M1859.1 743V766.8M1859.1 787.3V812M1965.1 772.1V795.9M1965.5 816.2L1958.6 834.6M1865.9 832H1891M1911 832H1936"/>
<path stroke-width="5" d="M1912 777L1810 539"/>
<path stroke="none" fill="#0568ae" d="M1798 511.3L1821.8 540.2L1803 548.3Z"/>
</g>
<g id="right-labels">
<text x="1412.1" y="612.0" font-size="48.7" fill="#ff0000" text-anchor="start">R85-BD5-HC10</text>
<text x="1406.1" y="1352.9" font-size="50.2" fill="#000" text-anchor="start">R85-BD5-HC10_unr</text>
<text x="1639.0" y="432.3" font-size="44" fill="#000" text-anchor="start">1129, 1150,</text>
<text x="1676.6" y="500.2" font-size="44" fill="#000" text-anchor="start">1182 cm<tspan font-size="44" dy="-12">-1</tspan></text>
<text x="1929.7" y="601.0" font-size="43.4" fill="#000" text-anchor="start">1030 cm<tspan font-size="43.4" dy="-12">-1</tspan></text>
<text x="2052.3" y="722.2" font-size="43.5" fill="#000" text-anchor="start">905, 838 cm<tspan font-size="43.5" dy="-12">-1</tspan></text>
<text x="1674.1" y="913.5" font-size="43.8" fill="#000" text-anchor="start">1286 cm<tspan font-size="43.8" dy="-12">-1</tspan></text>
<text x="1557.7" y="972.0" font-size="43.7" fill="#000" text-anchor="start">1490 cm<tspan font-size="43.7" dy="-12">-1</tspan></text>
</g>
<g id="serif-trim"><path fill="#fff" d="M160.67 959.81H171.31V967.30H160.67ZM178.91 959.81H188.84V967.30H178.91ZM1280.17 959.81H1290.81V967.30H1280.17ZM1298.41 959.81H1308.34V967.30H1298.41ZM160.67 737.81H171.31V745.30H160.67ZM178.91 737.81H188.84V745.30H178.91ZM1280.17 737.81H1290.81V745.30H1280.17ZM1298.41 737.81H1308.34V745.30H1298.41ZM1323.67 1474.61H1334.31V1482.10H1323.67ZM1341.91 1474.61H1351.85V1482.10H1341.91ZM1485.97 1474.61H1496.61V1482.10H1485.97ZM1504.21 1474.61H1514.15V1482.10H1504.21ZM1648.27 1474.61H1658.91V1482.10H1648.27ZM1666.51 1474.61H1676.45V1482.10H1666.51ZM1810.57 1474.61H1821.21V1482.10H1810.57ZM1828.81 1474.61H1838.75V1482.10H1828.81ZM1972.87 1474.61H1983.51V1482.10H1972.87ZM1991.11 1474.61H2001.05V1482.10H1991.11ZM1030.69 1565.81H1039.72V1572.00H1030.69ZM1046.04 1565.81H1054.49V1572.00H1046.04ZM2189.28 1565.81H2198.32V1572.00H2189.28ZM2204.64 1565.81H2213.09V1572.00H2204.64ZM1084.77 788.24H1094.42V794.80H1084.77ZM1101.23 788.24H1110.25V794.80H1101.23ZM1002.47 1370.64H1012.12V1377.20H1002.47ZM1018.93 1370.64H1027.95V1377.20H1018.93ZM706.51 1039.53H713.50V1044.50H706.51ZM718.17 1039.53H724.73V1044.50H718.17ZM1703.42 606.03H1712.92V612.50H1703.42ZM1719.60 606.03H1728.48V612.50H1719.60ZM1706.44 1346.78H1716.19V1353.40H1706.44ZM1723.08 1346.78H1732.20V1353.40H1723.08ZM1640.57 426.81H1649.27V432.80H1640.57ZM1655.31 426.81H1663.45V432.80H1655.31ZM1662.60 426.81H1671.30V432.80H1662.60ZM1677.34 426.81H1685.48V432.80H1677.34ZM1760.46 426.81H1769.16V432.80H1760.46ZM1775.20 426.81H1783.34V432.80H1775.20ZM1782.51 426.81H1791.21V432.80H1782.51ZM1797.24 426.81H1805.38V432.80H1797.24ZM1678.17 494.71H1686.87V500.70H1678.17ZM1692.91 494.71H1701.05V500.70H1692.91ZM1700.20 494.71H1708.90V500.70H1700.20ZM1714.94 494.71H1723.08V500.70H1714.94ZM1864.09 482.71H1872.79V488.70H1864.09ZM1878.83 482.71H1886.97V488.70H1878.83ZM1931.23 595.57H1939.83V601.50H1931.23ZM1945.78 595.57H1953.83V601.50H1945.78ZM2116.97 583.57H2125.56V589.50H2116.97ZM2131.52 583.57H2139.56V589.50H2131.52ZM2312.62 704.76H2321.23V710.70H2312.62ZM2327.20 704.76H2335.26V710.70H2327.20ZM1675.66 908.03H1684.32V914.00H1675.66ZM1690.33 908.03H1698.44V914.00H1690.33ZM1863.14 896.03H1871.81V902.00H1863.14ZM1877.82 896.03H1885.92V902.00H1877.82ZM1559.25 966.54H1567.90V972.50H1559.25ZM1573.90 966.54H1581.99V972.50H1573.90ZM1746.27 954.54H1754.92V960.50H1746.27ZM1760.91 954.54H1769.00V960.50H1760.91Z"/></g>
</svg>
</body></html>
